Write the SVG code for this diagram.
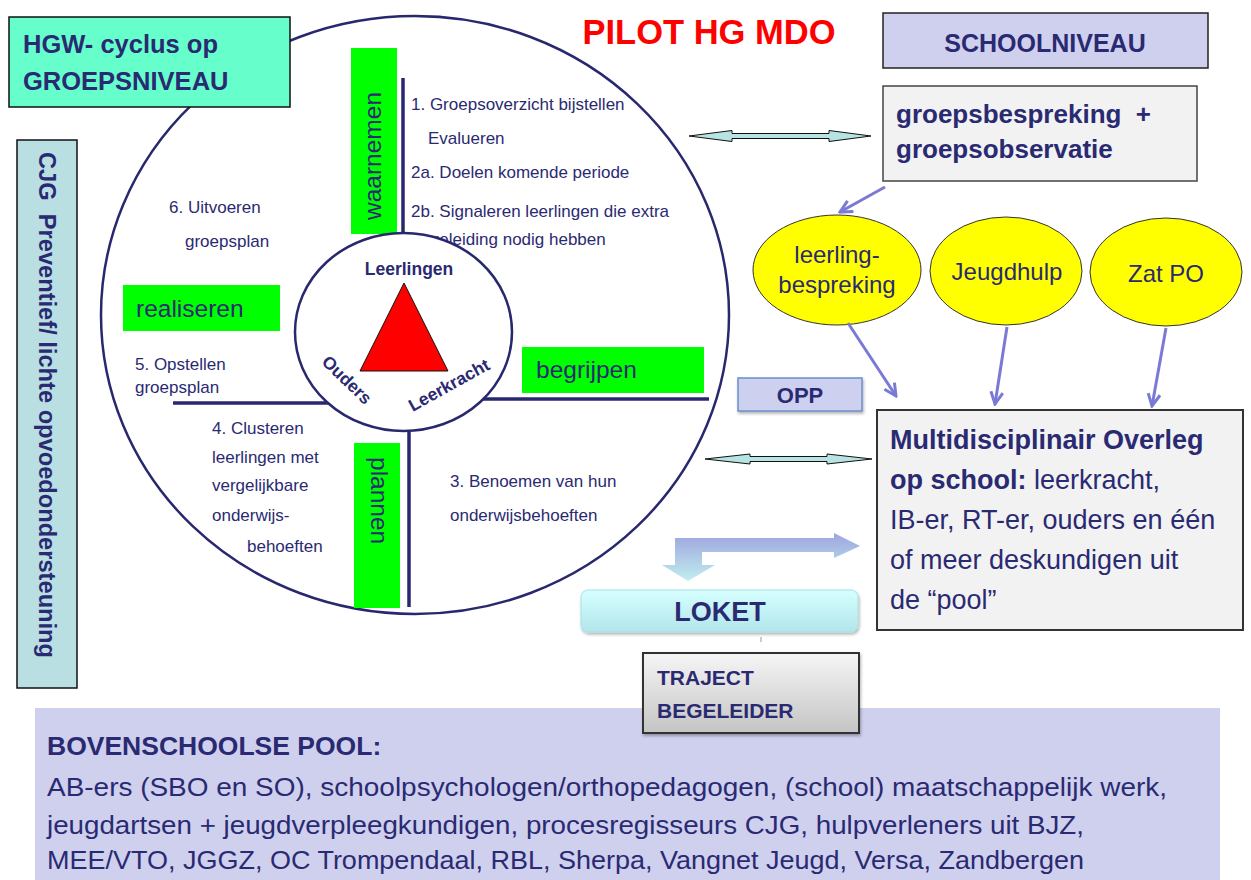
<svg xmlns="http://www.w3.org/2000/svg" width="1251" height="880" viewBox="0 0 1251 880">
<defs>
<style>
.t{font-family:"Liberation Sans",Arial,sans-serif;fill:#2a2a72}
.b{font-weight:bold}
.s17{font-size:17px}
.s24{font-size:24.5px}
.s27{font-size:27px}
.green{fill:#00ff00}
.ln{stroke:#28286e;stroke-width:3.5;fill:none}
.conn{stroke:#7a7ad6;stroke-width:3;fill:none}
.dbl{fill:#b7e3e3;stroke:#111;stroke-width:1}
.yel{fill:#ffff00;stroke:#333;stroke-width:1}
</style>
<marker id="ah" markerUnits="userSpaceOnUse" viewBox="0 0 16 16" refX="14" refY="8" markerWidth="16" markerHeight="16" orient="auto">
<path d="M2,2 L14,8 L2,14" fill="none" stroke="#7a7ad6" stroke-width="3"/>
</marker>
<linearGradient id="bent" x1="0" y1="0" x2="0" y2="1"><stop offset="0" stop-color="#9ea4e0"/><stop offset="1" stop-color="#c0eeee"/></linearGradient>
<linearGradient id="loket" x1="0" y1="0" x2="0" y2="1"><stop offset="0" stop-color="#d6ffff"/><stop offset="1" stop-color="#b2e6ea"/></linearGradient>
<linearGradient id="traj" x1="0" y1="0" x2="0" y2="1"><stop offset="0" stop-color="#f6f6f6"/><stop offset="1" stop-color="#c4c4c4"/></linearGradient>
<filter id="sh" x="-10%" y="-20%" width="130%" height="150%"><feDropShadow dx="1" dy="2" stdDeviation="1.5" flood-color="#000" flood-opacity="0.3"/></filter>
</defs>
<rect x="0" y="0" width="1251" height="880" fill="#ffffff"/>

<g id="cycle">
<ellipse cx="415" cy="315" rx="314" ry="299" fill="#ffffff" stroke="#28286e" stroke-width="2.5"/>
<line class="ln" x1="403" y1="78" x2="403" y2="245"/>
<line class="ln" x1="409" y1="420" x2="409" y2="607"/>
<line class="ln" x1="173" y1="403" x2="340" y2="403"/>
<line class="ln" x1="470" y1="399" x2="709" y2="399"/>
<text class="t s17" x="411" y="110">1. Groepsoverzicht bijstellen</text>
<text class="t s17" x="428" y="144">Evalueren</text>
<text class="t s17" x="411" y="178">2a. Doelen komende periode</text>
<text class="t s17" x="411" y="217">2b. Signaleren leerlingen die extra</text>
<text class="t s17" x="411" y="245">begeleiding nodig hebben</text>
<text class="t s17" x="169" y="213">6. Uitvoeren</text>
<text class="t s17" x="185" y="247">groepsplan</text>
<text class="t s17" x="135" y="370">5. Opstellen</text>
<text class="t s17" x="135" y="393">groepsplan</text>
<text class="t s17" x="212" y="434">4. Clusteren</text>
<text class="t s17" x="212" y="463">leerlingen met</text>
<text class="t s17" x="212" y="491">vergelijkbare</text>
<text class="t s17" x="212" y="521">onderwijs-</text>
<text class="t s17" x="247" y="552">behoeften</text>
<text class="t s17" x="450" y="487">3. Benoemen van hun</text>
<text class="t s17" x="450" y="521">onderwijsbehoeften</text>
</g>

<g id="waarnemen">
<rect class="green" x="351" y="48" width="46" height="186"/>
<text class="t s24" transform="translate(381,220) rotate(-90)">waarnemen</text>
</g>
<g id="realiseren">
<rect class="green" x="123" y="285" width="157" height="46"/>
<text class="t s24" x="136" y="317">realiseren</text>
</g>
<g id="begrijpen">
<rect class="green" x="522" y="347" width="182" height="46"/>
<text class="t s24" x="536" y="378">begrijpen</text>
</g>
<g id="plannen">
<rect class="green" x="354" y="443" width="46" height="165"/>
<text class="t s24" transform="translate(371,457) rotate(90)">plannen</text>
</g>

<g id="triangle">
<ellipse cx="403.5" cy="332" rx="108.5" ry="99" fill="#ffffff" stroke="#28286e" stroke-width="2.5"/>
<text class="t b" font-size="17.5" x="409" y="275" text-anchor="middle">Leerlingen</text>
<polygon points="404,283 360,371 448,371" fill="#ff0000" stroke="#111" stroke-width="1"/>
<text class="t b" font-size="17.5" text-anchor="middle" transform="translate(347,380) rotate(44)" y="6">Ouders</text>
<text class="t b" font-size="17.5" text-anchor="middle" transform="translate(449,385) rotate(-29)" y="6">Leerkracht</text>
</g>

<g id="hgw">
<rect x="9" y="17" width="281" height="90" fill="#66ffcc" stroke="#111" stroke-width="1.5"/>
<text class="t b" font-size="25.5" x="23" y="53">HGW- cyclus op</text>
<text class="t b" font-size="25.5" x="23" y="90">GROEPSNIVEAU</text>
</g>

<g id="cjg">
<rect x="17" y="140" width="60" height="548" fill="#b9dfe3" stroke="#111" stroke-width="1.5"/>
<text class="t b" font-size="23" xml:space="preserve" transform="translate(39,152) rotate(90)" textLength="506" lengthAdjust="spacingAndGlyphs">CJG  Preventief/ lichte opvoedondersteuning</text>
</g>

<g id="title">
<text x="709" y="44" text-anchor="middle" font-family="Liberation Sans,Arial,sans-serif" font-weight="bold" font-size="34.5" fill="#ff0000">PILOT HG MDO</text>
</g>

<g id="schoolniveau">
<rect x="883" y="13" width="325" height="55" fill="#cfd0ee" stroke="#222" stroke-width="1.5"/>
<text class="t b" font-size="25" x="1045" y="52" text-anchor="middle">SCHOOLNIVEAU</text>
</g>

<g id="groepsbespreking">
<rect x="883" y="86" width="314" height="95" fill="#f2f2f2" stroke="#444" stroke-width="1.5"/>
<text class="t b" font-size="26" x="896" y="123" xml:space="preserve">groepsbespreking  +</text>
<text class="t b" font-size="26" x="896" y="158">groepsobservatie</text>
</g>

<g id="leerlingbespreking">
<ellipse class="yel" cx="837" cy="270" rx="84" ry="55"/>
<text class="t" font-size="24" x="837" y="263" text-anchor="middle">leerling-</text>
<text class="t" font-size="24" x="837" y="293" text-anchor="middle">bespreking</text>
</g>
<g id="jeugdhulp">
<ellipse class="yel" cx="1006" cy="271" rx="76" ry="54"/>
<text class="t" font-size="24" x="1007" y="280" text-anchor="middle">Jeugdhulp</text>
</g>
<g id="zatpo">
<ellipse class="yel" cx="1166" cy="272" rx="76" ry="54"/>
<text class="t" font-size="24" x="1166" y="282" text-anchor="middle">Zat PO</text>
</g>

<g id="opp">
<rect x="738" y="378" width="124" height="33" fill="#cdd0ee" stroke="#6b8fcb" stroke-width="1.5" filter="url(#sh)"/>
<text class="t b" font-size="22" x="800" y="403" text-anchor="middle">OPP</text>
</g>

<g id="mdo">
<rect x="877" y="410" width="366" height="220" fill="#f2f2f2" stroke="#333" stroke-width="2"/>
<text class="t s27 b" x="890" y="449">Multidisciplinair Overleg</text>
<text class="t s27" x="890" y="489"><tspan font-weight="bold">op school:</tspan> leerkracht,</text>
<text class="t s27" x="890" y="529">IB-er, RT-er, ouders en één</text>
<text class="t s27" x="890" y="569">of meer deskundigen uit</text>
<text class="t s27" x="890" y="609">de “pool”</text>
</g>

<g id="loket">
<rect x="581" y="590" width="277" height="42" rx="7" fill="url(#loket)" stroke="#a8dfe4" stroke-width="1" filter="url(#sh)"/>
<text class="t b" font-size="27" x="720" y="621" text-anchor="middle">LOKET</text>
</g>

<g id="pool">
<rect x="35" y="708" width="1185" height="172" fill="#cfd0ee"/>
<text class="t b" font-size="26.5" x="47" y="755">BOVENSCHOOLSE POOL:</text>
<text class="t" font-size="26" x="47" y="796" textLength="1120" lengthAdjust="spacingAndGlyphs">AB-ers (SBO en SO), schoolpsychologen/orthopedagogen, (school) maatschappelijk werk,</text>
<text class="t" font-size="26" x="47" y="834" textLength="1037" lengthAdjust="spacingAndGlyphs">jeugdartsen + jeugdverpleegkundigen, procesregisseurs CJG, hulpverleners uit BJZ,</text>
<text class="t" font-size="26" x="47" y="869" textLength="1037" lengthAdjust="spacingAndGlyphs">MEE/VTO, JGGZ, OC Trompendaal, RBL, Sherpa, Vangnet Jeugd, Versa, Zandbergen</text>
</g>

<g id="traject">
<rect x="643" y="653" width="216" height="80" fill="url(#traj)" stroke="#333" stroke-width="2" filter="url(#sh)"/>
<text class="t b" font-size="21" x="657" y="685">TRAJECT</text>
<text class="t b" font-size="21" x="657" y="718">BEGELEIDER</text>
</g>

<g id="connectors">
<polygon class="dbl" points="689,136 732,130.5 732,133.5 829,133.5 829,130.5 871,136 829,141.5 829,138.5 732,138.5 732,141.5"/>
<polygon class="dbl" points="705,459 750,454 750,456.5 827,456.5 827,454 872,459 827,464 827,461.5 750,461.5 750,464"/>
<line class="conn" x1="885" y1="187" x2="840" y2="212" marker-end="url(#ah)"/>
<line class="conn" x1="848" y1="323" x2="896" y2="396" marker-end="url(#ah)"/>
<line class="conn" x1="1007" y1="327" x2="995" y2="404" marker-end="url(#ah)"/>
<line class="conn" x1="1166" y1="328" x2="1152" y2="406" marker-end="url(#ah)"/>
<polygon points="675,538 834,538 834,533 860,546 834,558 834,552 702,552 702,565 715,565 688,581 662,565 675,565" fill="url(#bent)"/>
<line x1="761" y1="637" x2="761" y2="642" stroke="#999" stroke-width="1"/>
</g>
</svg>
